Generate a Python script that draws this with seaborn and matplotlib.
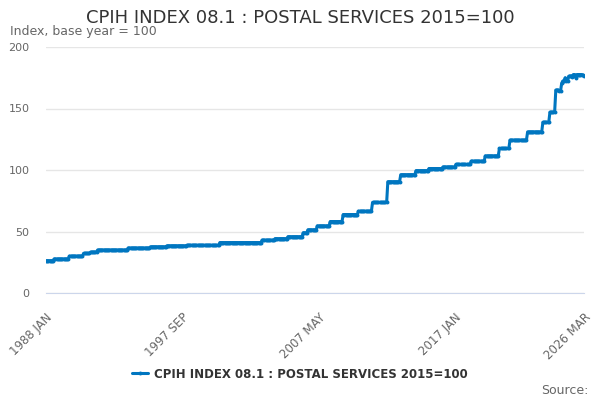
import numpy as np
import pandas as pd
import matplotlib
matplotlib.use("Agg")
import matplotlib.pyplot as plt
import seaborn as sns

TITLE = "CPIH INDEX 08.1 : POSTAL SERVICES 2015=100"

# Step levels (index value) and how many months each lasts
level_values = [26.3, 27.7, 30.0, 32.2, 33.3, 35.0, 36.6, 37.6, 38.4, 38.8,
                41.0, 43.0, 44.2, 45.8, 49.0, 51.4, 54.6, 58.1, 63.8, 66.5,
                73.6, 90.5, 96.2, 99.5, 101.2, 102.5, 104.5, 107.2, 111.5, 117.5,
                124.3, 131.0, 138.8, 147.0, 165.0, 164.0]
level_months = [7, 13, 12, 6, 6, 26, 19, 14, 17, 28,
                36, 11, 11, 13, 4, 8, 11, 11, 13, 12,
                13, 11, 13, 11, 12, 11, 13, 12, 12, 9,
                15, 13, 6, 5, 3, 2]

# Last 20 months move month to month
tail_values = [170.5, 172.4, 172.0, 175.0, 172.4, 172.4, 176.2, 176.4, 176.4, 176.0,
               177.6, 177.6, 175.0, 177.6, 177.6, 177.6, 177.6, 177.6, 177.3, 176.5]

tick_labels = {0: "1988 JAN", 116: "1997 SEP", 232: "2007 MAY", 348: "2017 JAN", 458: "2026 MAR"}
y_ticks = [0, 50, 100, 150, 200]

values = np.concatenate([np.repeat(level_values, level_months), tail_values])
df = pd.DataFrame({"month": np.arange(len(values)), "value": values})

sns.set_style("white")
plt.rcParams["font.family"] = ["DejaVu Sans"]

fig = plt.figure(figsize=(6, 4), dpi=100)
ax = fig.add_axes([46 / 600, 1 - 293 / 400, 538 / 600, 246 / 400])

sns.lineplot(data=df, x="month", y="value", ax=ax, color="#0076c0", linewidth=2.2,
             marker="o", markersize=2.8, markeredgewidth=0, label=TITLE)

ax.set_xlim(0, len(values) - 1)
ax.set_ylim(0, 200)
ax.set_xlabel("")
ax.set_ylabel("")

# y axis: gridlines only
ax.set_yticks(y_ticks)
ax.set_yticklabels([str(v) for v in y_ticks], fontsize=8, color="#666666")
ax.tick_params(axis="y", length=0, pad=12)
ax.grid(axis="y", color="#e6e6e6", linewidth=1)

# x axis: tick every 29 months plus the last month
ticks = list(range(0, len(values) - 20, 29)) + [len(values) - 1]
ax.set_xticks(ticks)
ax.set_xticklabels([tick_labels.get(t, "") for t in ticks], fontsize=8.5, color="#666666",
                   rotation=45, ha="right", va="top", rotation_mode="anchor")
ax.tick_params(axis="x", length=10, color="#ccd6eb", width=1, pad=3)

for side in ["top", "right", "left"]:
    ax.spines[side].set_visible(False)
ax.spines["bottom"].set_color("#ccd6eb")

fig.text(0.5, 1 - 18 / 400, TITLE, ha="center", va="center", fontsize=13, color="#333333")
fig.text(10 / 600, 1 - 32 / 400, "Index, base year = 100", ha="left", va="center",
         fontsize=9, color="#666666")
fig.text(589 / 600, 1 - 390 / 400, "Source:", ha="right", va="center", fontsize=9, color="#666666")

ax.legend(loc="center", bbox_to_anchor=(0.5, 1 - 374 / 400), bbox_transform=fig.transFigure,
          frameon=False, prop={"weight": "bold", "size": 8.5}, labelcolor="#333333",
          handlelength=1.4, handletextpad=0.5)

fig.savefig("out.png", dpi=100)
